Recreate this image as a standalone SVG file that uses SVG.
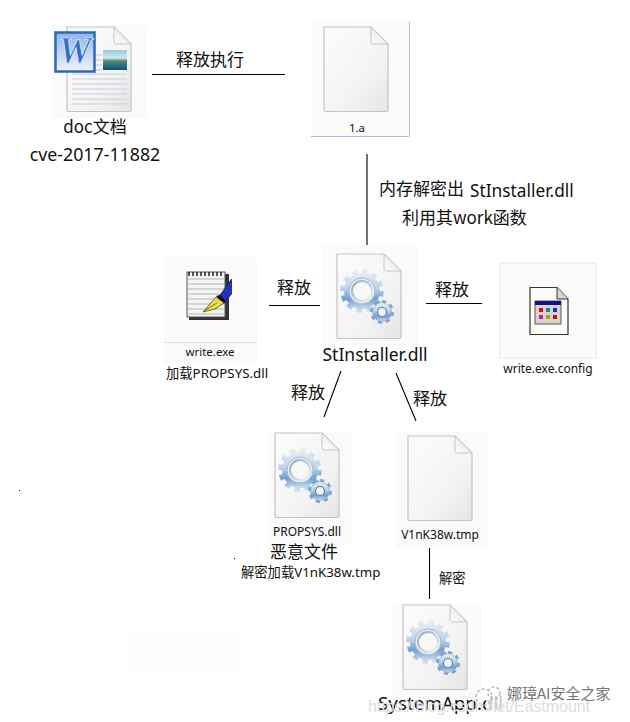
<svg xmlns="http://www.w3.org/2000/svg" xmlns:xlink="http://www.w3.org/1999/xlink" width="630" height="722" viewBox="0 0 630 722">
<style>
text{font-family:"Noto Sans","Noto Sans CJK SC",sans-serif;fill:#111}
.cjk{font-family:"Noto Sans CJK SC","Noto Sans",sans-serif}
.m{text-anchor:middle}
.panel{fill:#fafafa}
.faint{fill:#fefefe}
.conn line{stroke:#000;stroke-width:1.100}
.s11{font-size:11.500px}.s12{font-size:12px}.s13{font-size:13.300px}.s15{font-size:15px}.s16{font-size:16px}.s17{font-size:17px}.s18{font-size:17.500px}
.rule{stroke:#c9cede;stroke-width:1.200}
</style>
<defs>
<linearGradient id="pg" x1="0" y1="0" x2="1" y2="1"><stop offset="0" stop-color="#fcfcfc"/><stop offset=".65" stop-color="#f3f3f3"/><stop offset="1" stop-color="#e4e4e4"/></linearGradient>
<linearGradient id="fold" x1="0" y1="1" x2="1" y2="0"><stop offset="0" stop-color="#fdfdfd"/><stop offset=".5" stop-color="#eeeeee"/><stop offset="1" stop-color="#b9b9b9"/></linearGradient>
<linearGradient id="gear" x1="0" y1="0" x2="0" y2="1"><stop offset="0" stop-color="#e4ecf4"/><stop offset=".45" stop-color="#b9d1ea"/><stop offset=".72" stop-color="#6f9fd2"/><stop offset="1" stop-color="#cfdcea"/></linearGradient>
<linearGradient id="hole" x1="0" y1="0" x2="1" y2="1"><stop offset="0" stop-color="#8fa4b8"/><stop offset="1" stop-color="#f2f5f8"/></linearGradient>
<linearGradient id="land" x1="0" y1="0" x2="0" y2="1"><stop offset="0" stop-color="#8fcbe6"/><stop offset=".4" stop-color="#d3e8ef"/><stop offset=".55" stop-color="#4a8a72"/><stop offset=".8" stop-color="#2a6a80"/><stop offset="1" stop-color="#16506e"/></linearGradient>
<linearGradient id="badge" x1="0" y1="0" x2="0" y2="1"><stop offset="0" stop-color="#8fb4e8"/><stop offset=".6" stop-color="#c8daf3"/><stop offset="1" stop-color="#eef3fb"/></linearGradient>
<symbol id="page" width="68" height="87" viewBox="0 0 68 87" overflow="visible">
<path d="M2 1H49L66 18V84a1.500 1.500 0 0 1-1.500 1.500H3.500A1.500 1.500 0 0 1 2 84Z" fill="url(#pg)" stroke="#c4c4c4" stroke-width="1.200"/>
<path d="M49 1V16a2 2 0 0 0 2 2H66Z" fill="url(#fold)" stroke="#bdbdbd" stroke-width=".8"/>
</symbol>
<symbol id="gears" width="68" height="87" viewBox="0 0 68 87" overflow="visible">
<circle cx="27" cy="38" r="19.500" fill="none" stroke="url(#gear)" stroke-width="4.500" pathLength="100" stroke-dasharray="4.500 3.833"/>
<circle cx="27" cy="38" r="18" fill="url(#gear)"/>
<circle cx="27" cy="38" r="13" fill="#e6edf4" stroke="#a5bacd" stroke-width="1"/>
<circle cx="27" cy="38" r="10" fill="#f8f8f8" stroke="url(#hole)" stroke-width="2"/>
<circle cx="47" cy="59" r="10.500" fill="none" stroke="#7ea6cc" stroke-width="3" pathLength="100" stroke-dasharray="6.250 6.250"/>
<circle cx="47" cy="59" r="9.500" fill="url(#gear)" stroke="#7f9fbd" stroke-width=".6"/>
<circle cx="47" cy="59" r="4.500" fill="#f1f2f3" stroke="#5f7f9f" stroke-width="1.200"/>
</symbol>
</defs>
<rect width="630" height="722" fill="#fff"/>
<g id="background-patches">
<rect class="faint" x="128" y="213" width="92" height="6"/>
<rect class="faint" x="125" y="508" width="9" height="122"/>
<rect class="faint" x="125" y="508" width="113" height="6"/>
<rect class="faint" x="226" y="514" width="12" height="116"/>
<rect class="faint" x="125" y="632" width="120" height="40"/>
<rect x="19" y="490" width="1" height="1" fill="#000"/>
<rect x="234" y="558" width="1.200" height="1.200" fill="#222"/>
</g>
<g id="connectors" class="conn">
<line x1="152" y1="74.500" x2="285" y2="74.500"/>
<line x1="367" y1="154" x2="367" y2="245"/>
<line x1="269" y1="305.500" x2="320" y2="305.500"/>
<line x1="426" y1="303.500" x2="482" y2="303.500"/>
<line x1="341" y1="371" x2="324" y2="417"/>
<line x1="396" y1="373" x2="416" y2="421"/>
<line x1="429.500" y1="547" x2="429.500" y2="599"/>
</g>
<g id="edge-labels">
<text class="cjk s17" x="176" y="66">释放执行</text>
<text class="cjk" font-size="17" x="379" y="195">内存解密出</text>
<text font-size="17.300" x="470" y="197">StInstaller.dll</text>
<text class="cjk" font-size="17" x="402" y="224">利用其work函数</text>
<text class="cjk s17" x="277" y="294">释放</text>
<text class="cjk s17" x="435" y="296">释放</text>
<text class="cjk s17" x="291" y="399">释放</text>
<text class="cjk s17" x="413" y="405">释放</text>
<text class="cjk s13" x="439" y="583">解密</text>
</g>
<g id="node-doc">
<rect class="panel" x="52" y="25" width="95" height="93"/>
<use href="#page" x="65" y="26"/>
<g class="rule">
<line x1="72" y1="74" x2="127" y2="74"/><line x1="72" y1="79" x2="127" y2="79"/><line x1="72" y1="84" x2="127" y2="84"/><line x1="72" y1="89" x2="127" y2="89"/><line x1="72" y1="94" x2="127" y2="94"/><line x1="72" y1="99" x2="127" y2="99"/><line x1="72" y1="104" x2="127" y2="104"/>
<line x1="96" y1="55" x2="102" y2="55"/><line x1="96" y1="60" x2="102" y2="60"/><line x1="96" y1="65" x2="102" y2="65"/><line x1="96" y1="70" x2="102" y2="70"/>
</g>
<rect x="103" y="50" width="24" height="20" fill="url(#land)"/>
<rect x="55.500" y="32.500" width="39" height="39" fill="url(#badge)" stroke="#2c67ba" stroke-width="2.500"/>
<text x="75" y="63" text-anchor="middle" font-size="37" font-weight="bold" font-style="italic" style="font-family:'Liberation Serif',serif;fill:#2f6dcb;stroke:#e8f0fb;stroke-width:.7">W</text>
<text class="cjk s17 m" x="95" y="133">doc文档</text>
<text class="m" font-size="17.800" x="95" y="161">cve-2017-11882</text>
</g>
<g id="node-1a">
<rect x="311" y="22" width="98" height="115" fill="#fbfbfb"/>
<path d="M409.500 22V135a1.500 1.500 0 0 1-1.500 1.500H311" fill="none" stroke="#a8bedb" stroke-width="1"/>
<use href="#page" x="322" y="26"/>
<text class="s11 m" x="357" y="132">1.a</text>
</g>
<g id="node-stinstaller">
<rect class="panel" x="323" y="245" width="95" height="100"/>
<use href="#page" x="335" y="253"/>
<use href="#gears" x="335" y="253"/>
<text class="s18 m" x="375" y="361">StInstaller.dll</text>
</g>
<g id="node-write-exe">
<rect class="panel" x="164" y="257" width="93" height="106"/>
<line x1="164" y1="342.500" x2="257" y2="342.500" stroke="#dddddd"/>
<rect x="189" y="274" width="40" height="46" fill="#333"/>
<rect x="187" y="272" width="38" height="45" fill="#f4f4f4" stroke="#555" stroke-width="1"/>
<path d="M188 279H224M188 284H224M188 289H224M188 294H224M188 299H224M188 304H224M188 309H224M188 314H224" stroke="#b5b5b5"/>
<path d="M189 272V276M193 272V276M197 272V276M201 272V276M205 272V276M209 272V276M213 272V276M217 272V276M221 272V276" stroke="#222" stroke-width="1.500"/>
<path d="M231.500 279V294L224 303L218 298Z" fill="#2230c0" stroke="#102060" stroke-width=".8"/>
<path d="M216 296L220 295L226 301L224 304Z" fill="#111"/>
<path d="M216 297L224 303L215 309L203 312Z" fill="#e8de50" stroke="#4a4a20" stroke-width=".8"/>
<path d="M204 311L217 303" stroke="#7a7420" stroke-width="1"/>
<text class="s11 m" x="210" y="356">write.exe</text>
<text class="s13" x="166" y="378"><tspan class="cjk">加载</tspan>PROPSYS.dll</text>
</g>
<g id="node-write-config">
<rect x="500" y="263" width="96" height="95" fill="#fbfbfb" stroke="#e6e6e6"/>
<path d="M530 287.500H557L568 299V334.500H530Z" fill="#fafaf6" stroke="#333" stroke-width="1.200"/>
<path d="M557 287.500V299H568" fill="#d8d8d0" stroke="#333" stroke-width="1"/>
<rect x="535" y="301" width="26" height="23" fill="#d8d4c8" stroke="#333" stroke-width=".8"/>
<rect x="535" y="301" width="26" height="4" fill="#101090"/>
<g stroke="none">
<rect x="539" y="308" width="4" height="4" fill="#d01020"/><rect x="546" y="308" width="4" height="4" fill="#108a90"/><rect x="553" y="308" width="4" height="4" fill="#1030c0"/>
<rect x="539" y="315" width="4" height="4" fill="#d010c0"/><rect x="546" y="315" width="4" height="4" fill="#b0a010"/><rect x="553" y="315" width="4" height="4" fill="#c01020"/>
</g>
<text class="s12 m" x="548" y="373">write.exe.config</text>
</g>
<g id="node-propsys">
<rect class="panel" x="268" y="432" width="84" height="113"/>
<use href="#page" x="273" y="432"/>
<use href="#gears" x="273" y="432"/>
<text class="s12 m" x="307" y="536">PROPSYS.dll</text>
<text class="cjk s17 m" x="304" y="558">恶意文件</text>
<text class="s13" x="241" y="577"><tspan class="cjk">解密加载</tspan>V1nK38w.tmp</text>
</g>
<g id="node-v1nk">
<rect class="panel" x="396" y="431" width="92" height="117"/>
<use href="#page" x="406" y="435"/>
<text class="s12 m" x="440" y="539">V1nK38w.tmp</text>
</g>
<g id="node-systemapp">
<rect class="panel" x="392" y="603" width="89" height="97"/>
<use href="#page" x="401" y="604"/>
<use href="#gears" x="401" y="604"/>
<text x="378" y="710" font-size="18.800">SystemApp.dll</text>
</g>
<g id="watermark">
<rect x="486" y="684" width="20" height="34" fill="#fff" fill-opacity=".75"/>
<circle cx="484" cy="697" r="8" fill="none" stroke="#bbbbbb" stroke-width="1.500" stroke-dasharray="3 2"/>
<circle cx="494" cy="693" r="6" fill="none" stroke="#bbbbbb" stroke-width="1.500" stroke-dasharray="3 2"/>
<text class="cjk s15" x="507" y="699" style="fill:#777777">娜璋AI安全之家</text>
<text x="368" y="712" font-size="16" style="fill:#dddddd;font-family:'Liberation Sans',sans-serif" textLength="222">https://blog.csdn.net/Eastmount</text>
</g>
</svg>
